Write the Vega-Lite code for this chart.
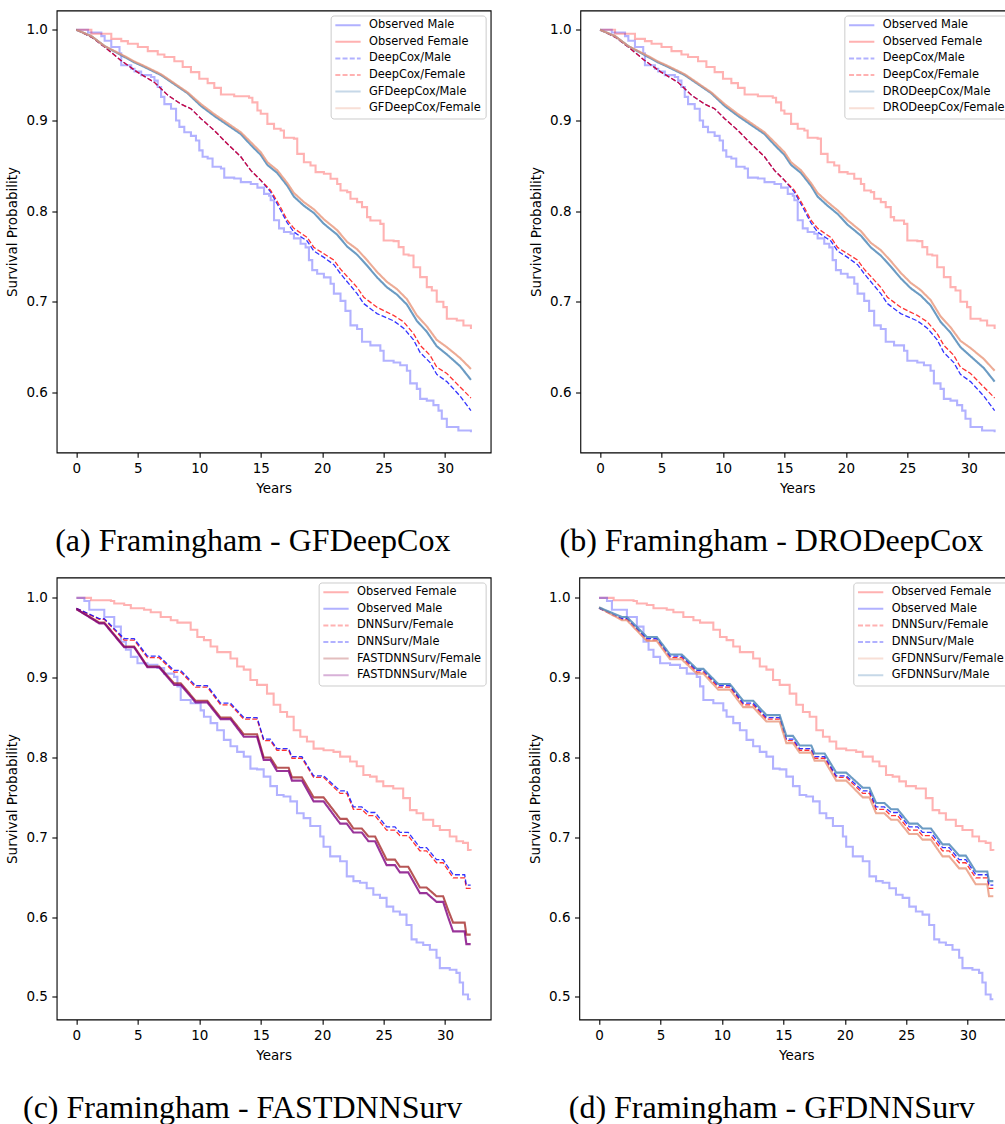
{
"$schema": "https://vega.github.io/schema/vega-lite/v6.json",
"padding": {"left": 4.65, "top": 9.5, "right": 0, "bottom": 0},
"background": "white",
"datasets": {
"obsAB": [
{"s":"Observed Male","t":0,"v":1.0},{"s":"Observed Male","t":0.95,"v":0.997},{"s":"Observed Male","t":2.03,"v":0.993},{"s":"Observed Male","t":2.3,"v":0.988},{"s":"Observed Male","t":2.84,"v":0.981},{"s":"Observed Male","t":3.51,"v":0.974},{"s":"Observed Male","t":3.65,"v":0.961},{"s":"Observed Male","t":4.46,"v":0.957},{"s":"Observed Male","t":4.73,"v":0.954},{"s":"Observed Male","t":5.27,"v":0.95},{"s":"Observed Male","t":6.08,"v":0.948},{"s":"Observed Male","t":6.35,"v":0.944},{"s":"Observed Male","t":6.62,"v":0.937},{"s":"Observed Male","t":6.89,"v":0.926},{"s":"Observed Male","t":7.16,"v":0.918},{"s":"Observed Male","t":7.7,"v":0.913},{"s":"Observed Male","t":8.11,"v":0.9},{"s":"Observed Male","t":8.38,"v":0.893},{"s":"Observed Male","t":8.78,"v":0.887},{"s":"Observed Male","t":9.32,"v":0.883},{"s":"Observed Male","t":9.73,"v":0.878},{"s":"Observed Male","t":10.0,"v":0.867},{"s":"Observed Male","t":10.27,"v":0.86},{"s":"Observed Male","t":10.68,"v":0.858},{"s":"Observed Male","t":11.08,"v":0.849},{"s":"Observed Male","t":11.76,"v":0.847},{"s":"Observed Male","t":12.03,"v":0.837},{"s":"Observed Male","t":12.84,"v":0.836},{"s":"Observed Male","t":13.38,"v":0.832},{"s":"Observed Male","t":14.19,"v":0.83},{"s":"Observed Male","t":14.73,"v":0.826},{"s":"Observed Male","t":15.27,"v":0.819},{"s":"Observed Male","t":15.68,"v":0.817},{"s":"Observed Male","t":15.81,"v":0.812},{"s":"Observed Male","t":16.08,"v":0.79},{"s":"Observed Male","t":16.49,"v":0.781},{"s":"Observed Male","t":16.89,"v":0.777},{"s":"Observed Male","t":17.43,"v":0.775},{"s":"Observed Male","t":17.7,"v":0.77},{"s":"Observed Male","t":18.24,"v":0.764},{"s":"Observed Male","t":18.65,"v":0.76},{"s":"Observed Male","t":18.92,"v":0.746},{"s":"Observed Male","t":19.19,"v":0.735},{"s":"Observed Male","t":19.59,"v":0.731},{"s":"Observed Male","t":20.14,"v":0.727},{"s":"Observed Male","t":20.68,"v":0.72},{"s":"Observed Male","t":20.95,"v":0.709},{"s":"Observed Male","t":21.49,"v":0.701},{"s":"Observed Male","t":21.89,"v":0.69},{"s":"Observed Male","t":22.3,"v":0.674},{"s":"Observed Male","t":22.84,"v":0.67},{"s":"Observed Male","t":23.24,"v":0.656},{"s":"Observed Male","t":23.92,"v":0.652},{"s":"Observed Male","t":24.73,"v":0.646},{"s":"Observed Male","t":25.0,"v":0.635},{"s":"Observed Male","t":25.81,"v":0.633},{"s":"Observed Male","t":26.35,"v":0.63},{"s":"Observed Male","t":26.89,"v":0.624},{"s":"Observed Male","t":27.16,"v":0.61},{"s":"Observed Male","t":27.7,"v":0.604},{"s":"Observed Male","t":27.97,"v":0.593},{"s":"Observed Male","t":28.51,"v":0.591},{"s":"Observed Male","t":29.05,"v":0.586},{"s":"Observed Male","t":29.46,"v":0.58},{"s":"Observed Male","t":29.73,"v":0.571},{"s":"Observed Male","t":30.14,"v":0.562},{"s":"Observed Male","t":31.08,"v":0.558},{"s":"Observed Male","t":32.1,"v":0.556},
{"s":"Observed Female","t":0,"v":1.0},{"s":"Observed Female","t":1.22,"v":0.9956},{"s":"Observed Female","t":2.84,"v":0.99},{"s":"Observed Female","t":3.65,"v":0.9875},{"s":"Observed Female","t":4.19,"v":0.9846},{"s":"Observed Female","t":5.0,"v":0.981},{"s":"Observed Female","t":5.81,"v":0.9765},{"s":"Observed Female","t":6.62,"v":0.9728},{"s":"Observed Female","t":7.16,"v":0.97},{"s":"Observed Female","t":7.97,"v":0.9654},{"s":"Observed Female","t":8.65,"v":0.959},{"s":"Observed Female","t":9.32,"v":0.9533},{"s":"Observed Female","t":10.0,"v":0.946},{"s":"Observed Female","t":10.68,"v":0.9412},{"s":"Observed Female","t":11.22,"v":0.936},{"s":"Observed Female","t":11.76,"v":0.9287},{"s":"Observed Female","t":12.84,"v":0.9268},{"s":"Observed Female","t":14.05,"v":0.925},{"s":"Observed Female","t":14.32,"v":0.92},{"s":"Observed Female","t":14.73,"v":0.911},{"s":"Observed Female","t":15.0,"v":0.9074},{"s":"Observed Female","t":15.54,"v":0.8963},{"s":"Observed Female","t":16.08,"v":0.8908},{"s":"Observed Female","t":16.62,"v":0.889},{"s":"Observed Female","t":16.89,"v":0.881},{"s":"Observed Female","t":17.7,"v":0.88},{"s":"Observed Female","t":17.97,"v":0.8632},{"s":"Observed Female","t":18.51,"v":0.854},{"s":"Observed Female","t":19.05,"v":0.8504},{"s":"Observed Female","t":19.46,"v":0.843},{"s":"Observed Female","t":20.14,"v":0.8412},{"s":"Observed Female","t":20.68,"v":0.8357},{"s":"Observed Female","t":21.22,"v":0.83},{"s":"Observed Female","t":21.49,"v":0.8228},{"s":"Observed Female","t":22.03,"v":0.821},{"s":"Observed Female","t":22.3,"v":0.8136},{"s":"Observed Female","t":22.84,"v":0.81},{"s":"Observed Female","t":23.24,"v":0.8044},{"s":"Observed Female","t":23.65,"v":0.7934},{"s":"Observed Female","t":23.92,"v":0.7897},{"s":"Observed Female","t":24.73,"v":0.786},{"s":"Observed Female","t":25.0,"v":0.7676},{"s":"Observed Female","t":25.81,"v":0.7669},{"s":"Observed Female","t":26.22,"v":0.7603},{"s":"Observed Female","t":26.62,"v":0.7522},{"s":"Observed Female","t":27.03,"v":0.7511},{"s":"Observed Female","t":27.43,"v":0.7382},{"s":"Observed Female","t":27.97,"v":0.7272},{"s":"Observed Female","t":28.51,"v":0.7162},{"s":"Observed Female","t":28.92,"v":0.7125},{"s":"Observed Female","t":29.32,"v":0.7},{"s":"Observed Female","t":29.86,"v":0.6941},{"s":"Observed Female","t":30.14,"v":0.6813},{"s":"Observed Female","t":30.95,"v":0.6794},{"s":"Observed Female","t":31.49,"v":0.6739},{"s":"Observed Female","t":32.1,"v":0.67}
],
"deepcox": [
{"s":"DeepCox/Male","t":0,"v":1.0},{"s":"DeepCox/Male","t":1.22,"v":0.992},{"s":"DeepCox/Male","t":2.3,"v":0.981},{"s":"DeepCox/Male","t":3.65,"v":0.966},{"s":"DeepCox/Male","t":5.0,"v":0.953},{"s":"DeepCox/Male","t":6.35,"v":0.942},{"s":"DeepCox/Male","t":7.43,"v":0.928},{"s":"DeepCox/Male","t":8.51,"v":0.918},{"s":"DeepCox/Male","t":9.32,"v":0.913},{"s":"DeepCox/Male","t":10.14,"v":0.902},{"s":"DeepCox/Male","t":11.22,"v":0.889},{"s":"DeepCox/Male","t":12.3,"v":0.874},{"s":"DeepCox/Male","t":13.38,"v":0.86},{"s":"DeepCox/Male","t":14.19,"v":0.845},{"s":"DeepCox/Male","t":15.0,"v":0.834},{"s":"DeepCox/Male","t":15.81,"v":0.821},{"s":"DeepCox/Male","t":16.62,"v":0.801},{"s":"DeepCox/Male","t":17.16,"v":0.787},{"s":"DeepCox/Male","t":17.7,"v":0.777},{"s":"DeepCox/Male","t":18.78,"v":0.767},{"s":"DeepCox/Male","t":19.32,"v":0.756},{"s":"DeepCox/Male","t":20.14,"v":0.749},{"s":"DeepCox/Male","t":20.95,"v":0.741},{"s":"DeepCox/Male","t":21.49,"v":0.731},{"s":"DeepCox/Male","t":22.84,"v":0.709},{"s":"DeepCox/Male","t":23.38,"v":0.698},{"s":"DeepCox/Male","t":24.46,"v":0.687},{"s":"DeepCox/Male","t":25.81,"v":0.679},{"s":"DeepCox/Male","t":26.62,"v":0.671},{"s":"DeepCox/Male","t":27.43,"v":0.658},{"s":"DeepCox/Male","t":27.97,"v":0.644},{"s":"DeepCox/Male","t":28.78,"v":0.633},{"s":"DeepCox/Male","t":29.32,"v":0.62},{"s":"DeepCox/Male","t":30.14,"v":0.612},{"s":"DeepCox/Male","t":31.22,"v":0.596},{"s":"DeepCox/Male","t":32.1,"v":0.58},
{"s":"DeepCox/Female","t":0,"v":1.0},{"s":"DeepCox/Female","t":1.22,"v":0.992},{"s":"DeepCox/Female","t":2.3,"v":0.981},{"s":"DeepCox/Female","t":3.65,"v":0.966},{"s":"DeepCox/Female","t":5.0,"v":0.953},{"s":"DeepCox/Female","t":6.35,"v":0.942},{"s":"DeepCox/Female","t":7.43,"v":0.928},{"s":"DeepCox/Female","t":8.51,"v":0.918},{"s":"DeepCox/Female","t":9.32,"v":0.913},{"s":"DeepCox/Female","t":10.14,"v":0.902},{"s":"DeepCox/Female","t":11.22,"v":0.889},{"s":"DeepCox/Female","t":12.3,"v":0.874},{"s":"DeepCox/Female","t":13.38,"v":0.86},{"s":"DeepCox/Female","t":14.19,"v":0.845},{"s":"DeepCox/Female","t":15.0,"v":0.834},{"s":"DeepCox/Female","t":15.81,"v":0.823},{"s":"DeepCox/Female","t":16.62,"v":0.804},{"s":"DeepCox/Female","t":17.16,"v":0.79},{"s":"DeepCox/Female","t":17.7,"v":0.781},{"s":"DeepCox/Female","t":18.78,"v":0.771},{"s":"DeepCox/Female","t":19.32,"v":0.76},{"s":"DeepCox/Female","t":20.14,"v":0.753},{"s":"DeepCox/Female","t":20.95,"v":0.746},{"s":"DeepCox/Female","t":21.49,"v":0.736},{"s":"DeepCox/Female","t":22.84,"v":0.716},{"s":"DeepCox/Female","t":23.38,"v":0.705},{"s":"DeepCox/Female","t":24.46,"v":0.694},{"s":"DeepCox/Female","t":25.81,"v":0.685},{"s":"DeepCox/Female","t":26.62,"v":0.678},{"s":"DeepCox/Female","t":27.43,"v":0.665},{"s":"DeepCox/Female","t":27.97,"v":0.652},{"s":"DeepCox/Female","t":28.78,"v":0.641},{"s":"DeepCox/Female","t":29.32,"v":0.628},{"s":"DeepCox/Female","t":30.14,"v":0.621},{"s":"DeepCox/Female","t":31.22,"v":0.606},{"s":"DeepCox/Female","t":32.1,"v":0.594}
],
"gfA": [
{"s":"GFDeepCox/Male","t":0,"v":1.0},{"s":"GFDeepCox/Male","t":1.22,"v":0.993},{"s":"GFDeepCox/Male","t":2.3,"v":0.982},{"s":"GFDeepCox/Male","t":3.92,"v":0.97},{"s":"GFDeepCox/Male","t":4.73,"v":0.964},{"s":"GFDeepCox/Male","t":5.54,"v":0.959},{"s":"GFDeepCox/Male","t":6.89,"v":0.95},{"s":"GFDeepCox/Male","t":7.97,"v":0.94},{"s":"GFDeepCox/Male","t":9.05,"v":0.93},{"s":"GFDeepCox/Male","t":10.14,"v":0.916},{"s":"GFDeepCox/Male","t":11.22,"v":0.905},{"s":"GFDeepCox/Male","t":12.3,"v":0.895},{"s":"GFDeepCox/Male","t":13.38,"v":0.885},{"s":"GFDeepCox/Male","t":14.19,"v":0.873},{"s":"GFDeepCox/Male","t":15.0,"v":0.862},{"s":"GFDeepCox/Male","t":15.54,"v":0.851},{"s":"GFDeepCox/Male","t":16.35,"v":0.842},{"s":"GFDeepCox/Male","t":17.16,"v":0.828},{"s":"GFDeepCox/Male","t":17.7,"v":0.816},{"s":"GFDeepCox/Male","t":18.51,"v":0.806},{"s":"GFDeepCox/Male","t":19.32,"v":0.798},{"s":"GFDeepCox/Male","t":20.14,"v":0.786},{"s":"GFDeepCox/Male","t":21.22,"v":0.774},{"s":"GFDeepCox/Male","t":22.03,"v":0.761},{"s":"GFDeepCox/Male","t":22.84,"v":0.752},{"s":"GFDeepCox/Male","t":23.65,"v":0.74},{"s":"GFDeepCox/Male","t":24.46,"v":0.727},{"s":"GFDeepCox/Male","t":25.27,"v":0.716},{"s":"GFDeepCox/Male","t":26.08,"v":0.708},{"s":"GFDeepCox/Male","t":26.89,"v":0.697},{"s":"GFDeepCox/Male","t":27.7,"v":0.679},{"s":"GFDeepCox/Male","t":28.51,"v":0.667},{"s":"GFDeepCox/Male","t":29.32,"v":0.651},{"s":"GFDeepCox/Male","t":30.14,"v":0.642},{"s":"GFDeepCox/Male","t":31.22,"v":0.629},{"s":"GFDeepCox/Male","t":32.1,"v":0.614},
{"s":"GFDeepCox/Female","t":0,"v":1.0},{"s":"GFDeepCox/Female","t":1.22,"v":0.993},{"s":"GFDeepCox/Female","t":2.3,"v":0.982},{"s":"GFDeepCox/Female","t":3.92,"v":0.971},{"s":"GFDeepCox/Female","t":4.73,"v":0.965},{"s":"GFDeepCox/Female","t":5.54,"v":0.96},{"s":"GFDeepCox/Female","t":6.89,"v":0.951},{"s":"GFDeepCox/Female","t":7.97,"v":0.941},{"s":"GFDeepCox/Female","t":9.05,"v":0.931},{"s":"GFDeepCox/Female","t":10.14,"v":0.918},{"s":"GFDeepCox/Female","t":11.22,"v":0.907},{"s":"GFDeepCox/Female","t":12.3,"v":0.897},{"s":"GFDeepCox/Female","t":13.38,"v":0.887},{"s":"GFDeepCox/Female","t":14.19,"v":0.876},{"s":"GFDeepCox/Female","t":15.0,"v":0.865},{"s":"GFDeepCox/Female","t":15.54,"v":0.854},{"s":"GFDeepCox/Female","t":16.35,"v":0.845},{"s":"GFDeepCox/Female","t":17.16,"v":0.831},{"s":"GFDeepCox/Female","t":17.7,"v":0.82},{"s":"GFDeepCox/Female","t":18.51,"v":0.81},{"s":"GFDeepCox/Female","t":19.32,"v":0.802},{"s":"GFDeepCox/Female","t":20.14,"v":0.791},{"s":"GFDeepCox/Female","t":21.22,"v":0.779},{"s":"GFDeepCox/Female","t":22.03,"v":0.766},{"s":"GFDeepCox/Female","t":22.84,"v":0.758},{"s":"GFDeepCox/Female","t":23.65,"v":0.746},{"s":"GFDeepCox/Female","t":24.46,"v":0.733},{"s":"GFDeepCox/Female","t":25.27,"v":0.722},{"s":"GFDeepCox/Female","t":26.08,"v":0.714},{"s":"GFDeepCox/Female","t":26.89,"v":0.703},{"s":"GFDeepCox/Female","t":27.7,"v":0.685},{"s":"GFDeepCox/Female","t":28.51,"v":0.673},{"s":"GFDeepCox/Female","t":29.32,"v":0.658},{"s":"GFDeepCox/Female","t":30.14,"v":0.65},{"s":"GFDeepCox/Female","t":31.22,"v":0.638},{"s":"GFDeepCox/Female","t":32.1,"v":0.626}
],
"droB": [
{"s":"DRODeepCox/Male","t":0,"v":1.0},{"s":"DRODeepCox/Male","t":1.22,"v":0.993},{"s":"DRODeepCox/Male","t":2.3,"v":0.982},{"s":"DRODeepCox/Male","t":3.92,"v":0.97},{"s":"DRODeepCox/Male","t":4.73,"v":0.964},{"s":"DRODeepCox/Male","t":5.54,"v":0.959},{"s":"DRODeepCox/Male","t":6.89,"v":0.95},{"s":"DRODeepCox/Male","t":7.97,"v":0.94},{"s":"DRODeepCox/Male","t":9.05,"v":0.93},{"s":"DRODeepCox/Male","t":10.14,"v":0.916},{"s":"DRODeepCox/Male","t":11.22,"v":0.905},{"s":"DRODeepCox/Male","t":12.3,"v":0.895},{"s":"DRODeepCox/Male","t":13.38,"v":0.885},{"s":"DRODeepCox/Male","t":14.19,"v":0.873},{"s":"DRODeepCox/Male","t":15.0,"v":0.862},{"s":"DRODeepCox/Male","t":15.54,"v":0.851},{"s":"DRODeepCox/Male","t":16.35,"v":0.842},{"s":"DRODeepCox/Male","t":17.16,"v":0.828},{"s":"DRODeepCox/Male","t":17.7,"v":0.816},{"s":"DRODeepCox/Male","t":18.51,"v":0.806},{"s":"DRODeepCox/Male","t":19.32,"v":0.797},{"s":"DRODeepCox/Male","t":20.14,"v":0.785},{"s":"DRODeepCox/Male","t":21.22,"v":0.773},{"s":"DRODeepCox/Male","t":22.03,"v":0.76},{"s":"DRODeepCox/Male","t":22.84,"v":0.751},{"s":"DRODeepCox/Male","t":23.65,"v":0.739},{"s":"DRODeepCox/Male","t":24.46,"v":0.726},{"s":"DRODeepCox/Male","t":25.27,"v":0.715},{"s":"DRODeepCox/Male","t":26.08,"v":0.707},{"s":"DRODeepCox/Male","t":26.89,"v":0.696},{"s":"DRODeepCox/Male","t":27.7,"v":0.678},{"s":"DRODeepCox/Male","t":28.51,"v":0.666},{"s":"DRODeepCox/Male","t":29.32,"v":0.65},{"s":"DRODeepCox/Male","t":30.14,"v":0.64},{"s":"DRODeepCox/Male","t":31.22,"v":0.627},{"s":"DRODeepCox/Male","t":32.1,"v":0.612},
{"s":"DRODeepCox/Female","t":0,"v":1.0},{"s":"DRODeepCox/Female","t":1.22,"v":0.993},{"s":"DRODeepCox/Female","t":2.3,"v":0.982},{"s":"DRODeepCox/Female","t":3.92,"v":0.971},{"s":"DRODeepCox/Female","t":4.73,"v":0.965},{"s":"DRODeepCox/Female","t":5.54,"v":0.96},{"s":"DRODeepCox/Female","t":6.89,"v":0.951},{"s":"DRODeepCox/Female","t":7.97,"v":0.941},{"s":"DRODeepCox/Female","t":9.05,"v":0.931},{"s":"DRODeepCox/Female","t":10.14,"v":0.918},{"s":"DRODeepCox/Female","t":11.22,"v":0.907},{"s":"DRODeepCox/Female","t":12.3,"v":0.897},{"s":"DRODeepCox/Female","t":13.38,"v":0.887},{"s":"DRODeepCox/Female","t":14.19,"v":0.876},{"s":"DRODeepCox/Female","t":15.0,"v":0.865},{"s":"DRODeepCox/Female","t":15.54,"v":0.854},{"s":"DRODeepCox/Female","t":16.35,"v":0.845},{"s":"DRODeepCox/Female","t":17.16,"v":0.831},{"s":"DRODeepCox/Female","t":17.7,"v":0.82},{"s":"DRODeepCox/Female","t":18.51,"v":0.81},{"s":"DRODeepCox/Female","t":19.32,"v":0.801},{"s":"DRODeepCox/Female","t":20.14,"v":0.79},{"s":"DRODeepCox/Female","t":21.22,"v":0.778},{"s":"DRODeepCox/Female","t":22.03,"v":0.765},{"s":"DRODeepCox/Female","t":22.84,"v":0.757},{"s":"DRODeepCox/Female","t":23.65,"v":0.745},{"s":"DRODeepCox/Female","t":24.46,"v":0.732},{"s":"DRODeepCox/Female","t":25.27,"v":0.721},{"s":"DRODeepCox/Female","t":26.08,"v":0.713},{"s":"DRODeepCox/Female","t":26.89,"v":0.702},{"s":"DRODeepCox/Female","t":27.7,"v":0.684},{"s":"DRODeepCox/Female","t":28.51,"v":0.672},{"s":"DRODeepCox/Female","t":29.32,"v":0.657},{"s":"DRODeepCox/Female","t":30.14,"v":0.649},{"s":"DRODeepCox/Female","t":31.22,"v":0.637},{"s":"DRODeepCox/Female","t":32.1,"v":0.624}
],
"obsCD": [
{"s":"Observed Female","t":0,"v":1.0},{"s":"Observed Female","t":1.19,"v":0.997},{"s":"Observed Female","t":2.81,"v":0.996},{"s":"Observed Female","t":3.08,"v":0.993},{"s":"Observed Female","t":3.89,"v":0.991},{"s":"Observed Female","t":4.43,"v":0.987},{"s":"Observed Female","t":5.51,"v":0.985},{"s":"Observed Female","t":6.05,"v":0.982},{"s":"Observed Female","t":6.86,"v":0.976},{"s":"Observed Female","t":7.68,"v":0.972},{"s":"Observed Female","t":8.22,"v":0.969},{"s":"Observed Female","t":9.3,"v":0.96},{"s":"Observed Female","t":9.84,"v":0.951},{"s":"Observed Female","t":10.38,"v":0.947},{"s":"Observed Female","t":10.92,"v":0.939},{"s":"Observed Female","t":11.46,"v":0.932},{"s":"Observed Female","t":12.54,"v":0.924},{"s":"Observed Female","t":13.08,"v":0.914},{"s":"Observed Female","t":13.62,"v":0.91},{"s":"Observed Female","t":14.16,"v":0.897},{"s":"Observed Female","t":14.7,"v":0.891},{"s":"Observed Female","t":15.51,"v":0.88},{"s":"Observed Female","t":16.05,"v":0.866},{"s":"Observed Female","t":16.59,"v":0.857},{"s":"Observed Female","t":17.14,"v":0.851},{"s":"Observed Female","t":17.68,"v":0.834},{"s":"Observed Female","t":18.22,"v":0.826},{"s":"Observed Female","t":18.76,"v":0.82},{"s":"Observed Female","t":19.3,"v":0.811},{"s":"Observed Female","t":20.11,"v":0.809},{"s":"Observed Female","t":20.92,"v":0.807},{"s":"Observed Female","t":21.46,"v":0.801},{"s":"Observed Female","t":22.27,"v":0.795},{"s":"Observed Female","t":22.81,"v":0.789},{"s":"Observed Female","t":23.35,"v":0.778},{"s":"Observed Female","t":23.89,"v":0.776},{"s":"Observed Female","t":24.43,"v":0.77},{"s":"Observed Female","t":24.97,"v":0.764},{"s":"Observed Female","t":25.78,"v":0.761},{"s":"Observed Female","t":26.59,"v":0.749},{"s":"Observed Female","t":27.14,"v":0.734},{"s":"Observed Female","t":27.68,"v":0.73},{"s":"Observed Female","t":28.22,"v":0.722},{"s":"Observed Female","t":29.03,"v":0.714},{"s":"Observed Female","t":29.57,"v":0.709},{"s":"Observed Female","t":30.38,"v":0.701},{"s":"Observed Female","t":30.92,"v":0.695},{"s":"Observed Female","t":31.46,"v":0.693},{"s":"Observed Female","t":31.86,"v":0.684},{"s":"Observed Female","t":32.08,"v":0.683},
{"s":"Observed Male","t":0,"v":1.0},{"s":"Observed Male","t":0.65,"v":0.996},{"s":"Observed Male","t":1.05,"v":0.985},{"s":"Observed Male","t":1.73,"v":0.985},{"s":"Observed Male","t":2.27,"v":0.976},{"s":"Observed Male","t":3.08,"v":0.964},{"s":"Observed Male","t":3.62,"v":0.945},{"s":"Observed Male","t":4.03,"v":0.935},{"s":"Observed Male","t":4.43,"v":0.926},{"s":"Observed Male","t":4.97,"v":0.918},{"s":"Observed Male","t":5.78,"v":0.916},{"s":"Observed Male","t":6.59,"v":0.912},{"s":"Observed Male","t":7.14,"v":0.905},{"s":"Observed Male","t":7.95,"v":0.901},{"s":"Observed Male","t":8.22,"v":0.889},{"s":"Observed Male","t":8.49,"v":0.872},{"s":"Observed Male","t":9.3,"v":0.868},{"s":"Observed Male","t":10.11,"v":0.859},{"s":"Observed Male","t":10.38,"v":0.851},{"s":"Observed Male","t":10.92,"v":0.843},{"s":"Observed Male","t":11.46,"v":0.834},{"s":"Observed Male","t":12.0,"v":0.822},{"s":"Observed Male","t":12.54,"v":0.814},{"s":"Observed Male","t":13.08,"v":0.807},{"s":"Observed Male","t":13.62,"v":0.801},{"s":"Observed Male","t":14.16,"v":0.786},{"s":"Observed Male","t":14.7,"v":0.785},{"s":"Observed Male","t":15.24,"v":0.776},{"s":"Observed Male","t":15.78,"v":0.764},{"s":"Observed Male","t":16.32,"v":0.753},{"s":"Observed Male","t":16.86,"v":0.751},{"s":"Observed Male","t":17.41,"v":0.745},{"s":"Observed Male","t":17.95,"v":0.73},{"s":"Observed Male","t":18.49,"v":0.724},{"s":"Observed Male","t":19.03,"v":0.714},{"s":"Observed Male","t":19.84,"v":0.701},{"s":"Observed Male","t":20.11,"v":0.688},{"s":"Observed Male","t":20.65,"v":0.676},{"s":"Observed Male","t":21.46,"v":0.67},{"s":"Observed Male","t":22.0,"v":0.651},{"s":"Observed Male","t":22.54,"v":0.645},{"s":"Observed Male","t":23.08,"v":0.643},{"s":"Observed Male","t":23.62,"v":0.636},{"s":"Observed Male","t":24.16,"v":0.628},{"s":"Observed Male","t":24.7,"v":0.624},{"s":"Observed Male","t":25.24,"v":0.613},{"s":"Observed Male","t":25.78,"v":0.607},{"s":"Observed Male","t":26.32,"v":0.603},{"s":"Observed Male","t":26.86,"v":0.59},{"s":"Observed Male","t":27.27,"v":0.572},{"s":"Observed Male","t":27.68,"v":0.568},{"s":"Observed Male","t":28.22,"v":0.565},{"s":"Observed Male","t":28.76,"v":0.559},{"s":"Observed Male","t":29.3,"v":0.549},{"s":"Observed Male","t":29.57,"v":0.536},{"s":"Observed Male","t":30.38,"v":0.534},{"s":"Observed Male","t":30.92,"v":0.53},{"s":"Observed Male","t":31.19,"v":0.518},{"s":"Observed Male","t":31.46,"v":0.503},{"s":"Observed Male","t":31.86,"v":0.497},{"s":"Observed Male","t":32.08,"v":0.497}
],
"dnn": [
{"s":"DNNSurv/Female","t":0,"v":0.987},{"s":"DNNSurv/Female","t":1.86,"v":0.973},{"s":"DNNSurv/Female","t":2.27,"v":0.973},{"s":"DNNSurv/Female","t":3.89,"v":0.947},{"s":"DNNSurv/Female","t":4.7,"v":0.947},{"s":"DNNSurv/Female","t":5.78,"v":0.925},{"s":"DNNSurv/Female","t":6.73,"v":0.925},{"s":"DNNSurv/Female","t":7.95,"v":0.907},{"s":"DNNSurv/Female","t":8.49,"v":0.907},{"s":"DNNSurv/Female","t":9.7,"v":0.888},{"s":"DNNSurv/Female","t":10.65,"v":0.888},{"s":"DNNSurv/Female","t":11.73,"v":0.866},{"s":"DNNSurv/Female","t":12.54,"v":0.866},{"s":"DNNSurv/Female","t":13.62,"v":0.848},{"s":"DNNSurv/Female","t":14.7,"v":0.848},{"s":"DNNSurv/Female","t":15.24,"v":0.821},{"s":"DNNSurv/Female","t":15.78,"v":0.821},{"s":"DNNSurv/Female","t":16.32,"v":0.809},{"s":"DNNSurv/Female","t":17.27,"v":0.809},{"s":"DNNSurv/Female","t":17.54,"v":0.799},{"s":"DNNSurv/Female","t":18.35,"v":0.799},{"s":"DNNSurv/Female","t":19.3,"v":0.775},{"s":"DNNSurv/Female","t":20.11,"v":0.775},{"s":"DNNSurv/Female","t":21.46,"v":0.755},{"s":"DNNSurv/Female","t":22.0,"v":0.755},{"s":"DNNSurv/Female","t":22.54,"v":0.735},{"s":"DNNSurv/Female","t":23.22,"v":0.735},{"s":"DNNSurv/Female","t":23.76,"v":0.727},{"s":"DNNSurv/Female","t":24.3,"v":0.727},{"s":"DNNSurv/Female","t":25.24,"v":0.709},{"s":"DNNSurv/Female","t":25.92,"v":0.709},{"s":"DNNSurv/Female","t":26.32,"v":0.702},{"s":"DNNSurv/Female","t":27.0,"v":0.702},{"s":"DNNSurv/Female","t":27.95,"v":0.683},{"s":"DNNSurv/Female","t":28.49,"v":0.683},{"s":"DNNSurv/Female","t":29.3,"v":0.668},{"s":"DNNSurv/Female","t":29.84,"v":0.668},{"s":"DNNSurv/Female","t":30.65,"v":0.649},{"s":"DNNSurv/Female","t":31.59,"v":0.649},{"s":"DNNSurv/Female","t":31.73,"v":0.636},{"s":"DNNSurv/Female","t":32.08,"v":0.636},
{"s":"DNNSurv/Male","t":0,"v":0.987},{"s":"DNNSurv/Male","t":1.86,"v":0.974},{"s":"DNNSurv/Male","t":2.27,"v":0.974},{"s":"DNNSurv/Male","t":3.89,"v":0.949},{"s":"DNNSurv/Male","t":4.7,"v":0.949},{"s":"DNNSurv/Male","t":5.78,"v":0.927},{"s":"DNNSurv/Male","t":6.73,"v":0.927},{"s":"DNNSurv/Male","t":7.95,"v":0.909},{"s":"DNNSurv/Male","t":8.49,"v":0.909},{"s":"DNNSurv/Male","t":9.7,"v":0.89},{"s":"DNNSurv/Male","t":10.65,"v":0.89},{"s":"DNNSurv/Male","t":11.73,"v":0.868},{"s":"DNNSurv/Male","t":12.54,"v":0.868},{"s":"DNNSurv/Male","t":13.62,"v":0.85},{"s":"DNNSurv/Male","t":14.7,"v":0.85},{"s":"DNNSurv/Male","t":15.24,"v":0.823},{"s":"DNNSurv/Male","t":15.78,"v":0.823},{"s":"DNNSurv/Male","t":16.32,"v":0.811},{"s":"DNNSurv/Male","t":17.27,"v":0.811},{"s":"DNNSurv/Male","t":17.54,"v":0.801},{"s":"DNNSurv/Male","t":18.35,"v":0.801},{"s":"DNNSurv/Male","t":19.3,"v":0.777},{"s":"DNNSurv/Male","t":20.11,"v":0.777},{"s":"DNNSurv/Male","t":21.46,"v":0.758},{"s":"DNNSurv/Male","t":22.0,"v":0.758},{"s":"DNNSurv/Male","t":22.54,"v":0.738},{"s":"DNNSurv/Male","t":23.22,"v":0.738},{"s":"DNNSurv/Male","t":23.76,"v":0.731},{"s":"DNNSurv/Male","t":24.3,"v":0.731},{"s":"DNNSurv/Male","t":25.24,"v":0.713},{"s":"DNNSurv/Male","t":25.92,"v":0.713},{"s":"DNNSurv/Male","t":26.32,"v":0.706},{"s":"DNNSurv/Male","t":27.0,"v":0.706},{"s":"DNNSurv/Male","t":27.95,"v":0.687},{"s":"DNNSurv/Male","t":28.49,"v":0.687},{"s":"DNNSurv/Male","t":29.3,"v":0.672},{"s":"DNNSurv/Male","t":29.84,"v":0.672},{"s":"DNNSurv/Male","t":30.65,"v":0.653},{"s":"DNNSurv/Male","t":31.59,"v":0.653},{"s":"DNNSurv/Male","t":31.73,"v":0.64},{"s":"DNNSurv/Male","t":32.08,"v":0.64}
],
"fast": [
{"s":"FASTDNNSurv/Female","t":0,"v":0.986},{"s":"FASTDNNSurv/Female","t":1.86,"v":0.969},{"s":"FASTDNNSurv/Female","t":2.27,"v":0.969},{"s":"FASTDNNSurv/Female","t":3.89,"v":0.939},{"s":"FASTDNNSurv/Female","t":4.7,"v":0.939},{"s":"FASTDNNSurv/Female","t":5.78,"v":0.914},{"s":"FASTDNNSurv/Female","t":6.73,"v":0.914},{"s":"FASTDNNSurv/Female","t":7.95,"v":0.893},{"s":"FASTDNNSurv/Female","t":8.49,"v":0.893},{"s":"FASTDNNSurv/Female","t":9.7,"v":0.871},{"s":"FASTDNNSurv/Female","t":10.65,"v":0.871},{"s":"FASTDNNSurv/Female","t":11.73,"v":0.85},{"s":"FASTDNNSurv/Female","t":12.54,"v":0.85},{"s":"FASTDNNSurv/Female","t":13.62,"v":0.829},{"s":"FASTDNNSurv/Female","t":14.7,"v":0.829},{"s":"FASTDNNSurv/Female","t":15.24,"v":0.8},{"s":"FASTDNNSurv/Female","t":15.78,"v":0.8},{"s":"FASTDNNSurv/Female","t":16.32,"v":0.787},{"s":"FASTDNNSurv/Female","t":17.27,"v":0.787},{"s":"FASTDNNSurv/Female","t":17.54,"v":0.775},{"s":"FASTDNNSurv/Female","t":18.35,"v":0.775},{"s":"FASTDNNSurv/Female","t":19.3,"v":0.75},{"s":"FASTDNNSurv/Female","t":20.11,"v":0.75},{"s":"FASTDNNSurv/Female","t":21.46,"v":0.723},{"s":"FASTDNNSurv/Female","t":22.0,"v":0.723},{"s":"FASTDNNSurv/Female","t":22.54,"v":0.711},{"s":"FASTDNNSurv/Female","t":23.22,"v":0.711},{"s":"FASTDNNSurv/Female","t":23.76,"v":0.701},{"s":"FASTDNNSurv/Female","t":24.3,"v":0.701},{"s":"FASTDNNSurv/Female","t":25.24,"v":0.672},{"s":"FASTDNNSurv/Female","t":25.92,"v":0.672},{"s":"FASTDNNSurv/Female","t":26.32,"v":0.663},{"s":"FASTDNNSurv/Female","t":27.0,"v":0.663},{"s":"FASTDNNSurv/Female","t":27.95,"v":0.637},{"s":"FASTDNNSurv/Female","t":28.49,"v":0.637},{"s":"FASTDNNSurv/Female","t":29.3,"v":0.626},{"s":"FASTDNNSurv/Female","t":29.84,"v":0.626},{"s":"FASTDNNSurv/Female","t":30.24,"v":0.609},{"s":"FASTDNNSurv/Female","t":30.65,"v":0.593},{"s":"FASTDNNSurv/Female","t":31.59,"v":0.593},{"s":"FASTDNNSurv/Female","t":31.73,"v":0.578},{"s":"FASTDNNSurv/Female","t":32.08,"v":0.578},
{"s":"FASTDNNSurv/Male","t":0,"v":0.986},{"s":"FASTDNNSurv/Male","t":1.86,"v":0.968},{"s":"FASTDNNSurv/Male","t":2.27,"v":0.968},{"s":"FASTDNNSurv/Male","t":3.89,"v":0.938},{"s":"FASTDNNSurv/Male","t":4.7,"v":0.938},{"s":"FASTDNNSurv/Male","t":5.78,"v":0.913},{"s":"FASTDNNSurv/Male","t":6.73,"v":0.913},{"s":"FASTDNNSurv/Male","t":7.95,"v":0.891},{"s":"FASTDNNSurv/Male","t":8.49,"v":0.891},{"s":"FASTDNNSurv/Male","t":9.7,"v":0.869},{"s":"FASTDNNSurv/Male","t":10.65,"v":0.869},{"s":"FASTDNNSurv/Male","t":11.73,"v":0.848},{"s":"FASTDNNSurv/Male","t":12.54,"v":0.848},{"s":"FASTDNNSurv/Male","t":13.62,"v":0.826},{"s":"FASTDNNSurv/Male","t":14.7,"v":0.826},{"s":"FASTDNNSurv/Male","t":15.24,"v":0.797},{"s":"FASTDNNSurv/Male","t":15.78,"v":0.797},{"s":"FASTDNNSurv/Male","t":16.32,"v":0.783},{"s":"FASTDNNSurv/Male","t":17.27,"v":0.783},{"s":"FASTDNNSurv/Male","t":17.54,"v":0.771},{"s":"FASTDNNSurv/Male","t":18.35,"v":0.771},{"s":"FASTDNNSurv/Male","t":19.3,"v":0.745},{"s":"FASTDNNSurv/Male","t":20.11,"v":0.745},{"s":"FASTDNNSurv/Male","t":21.46,"v":0.717},{"s":"FASTDNNSurv/Male","t":22.0,"v":0.717},{"s":"FASTDNNSurv/Male","t":22.54,"v":0.706},{"s":"FASTDNNSurv/Male","t":23.22,"v":0.706},{"s":"FASTDNNSurv/Male","t":23.76,"v":0.695},{"s":"FASTDNNSurv/Male","t":24.3,"v":0.695},{"s":"FASTDNNSurv/Male","t":25.24,"v":0.665},{"s":"FASTDNNSurv/Male","t":25.92,"v":0.665},{"s":"FASTDNNSurv/Male","t":26.32,"v":0.656},{"s":"FASTDNNSurv/Male","t":27.0,"v":0.656},{"s":"FASTDNNSurv/Male","t":27.95,"v":0.63},{"s":"FASTDNNSurv/Male","t":28.49,"v":0.63},{"s":"FASTDNNSurv/Male","t":29.3,"v":0.619},{"s":"FASTDNNSurv/Male","t":29.84,"v":0.619},{"s":"FASTDNNSurv/Male","t":30.24,"v":0.6},{"s":"FASTDNNSurv/Male","t":30.65,"v":0.582},{"s":"FASTDNNSurv/Male","t":31.59,"v":0.582},{"s":"FASTDNNSurv/Male","t":31.73,"v":0.566},{"s":"FASTDNNSurv/Male","t":32.08,"v":0.566}
],
"gfdnn": [
{"s":"GFDNNSurv/Female","t":0,"v":0.988},{"s":"GFDNNSurv/Female","t":1.86,"v":0.972},{"s":"GFDNNSurv/Female","t":2.27,"v":0.972},{"s":"GFDNNSurv/Female","t":3.89,"v":0.946},{"s":"GFDNNSurv/Female","t":4.7,"v":0.946},{"s":"GFDNNSurv/Female","t":5.78,"v":0.923},{"s":"GFDNNSurv/Female","t":6.73,"v":0.923},{"s":"GFDNNSurv/Female","t":7.95,"v":0.905},{"s":"GFDNNSurv/Female","t":8.49,"v":0.905},{"s":"GFDNNSurv/Female","t":9.7,"v":0.885},{"s":"GFDNNSurv/Female","t":10.65,"v":0.885},{"s":"GFDNNSurv/Female","t":11.73,"v":0.863},{"s":"GFDNNSurv/Female","t":12.54,"v":0.863},{"s":"GFDNNSurv/Female","t":13.62,"v":0.845},{"s":"GFDNNSurv/Female","t":14.7,"v":0.845},{"s":"GFDNNSurv/Female","t":15.24,"v":0.818},{"s":"GFDNNSurv/Female","t":15.78,"v":0.818},{"s":"GFDNNSurv/Female","t":16.32,"v":0.806},{"s":"GFDNNSurv/Female","t":17.27,"v":0.806},{"s":"GFDNNSurv/Female","t":17.54,"v":0.796},{"s":"GFDNNSurv/Female","t":18.35,"v":0.796},{"s":"GFDNNSurv/Female","t":19.3,"v":0.771},{"s":"GFDNNSurv/Female","t":20.11,"v":0.771},{"s":"GFDNNSurv/Female","t":21.46,"v":0.75},{"s":"GFDNNSurv/Female","t":22.0,"v":0.75},{"s":"GFDNNSurv/Female","t":22.54,"v":0.73},{"s":"GFDNNSurv/Female","t":23.22,"v":0.73},{"s":"GFDNNSurv/Female","t":23.76,"v":0.722},{"s":"GFDNNSurv/Female","t":24.3,"v":0.722},{"s":"GFDNNSurv/Female","t":25.24,"v":0.704},{"s":"GFDNNSurv/Female","t":25.92,"v":0.704},{"s":"GFDNNSurv/Female","t":26.32,"v":0.697},{"s":"GFDNNSurv/Female","t":27.0,"v":0.697},{"s":"GFDNNSurv/Female","t":27.95,"v":0.676},{"s":"GFDNNSurv/Female","t":28.49,"v":0.676},{"s":"GFDNNSurv/Female","t":29.3,"v":0.661},{"s":"GFDNNSurv/Female","t":29.84,"v":0.661},{"s":"GFDNNSurv/Female","t":30.65,"v":0.641},{"s":"GFDNNSurv/Female","t":31.59,"v":0.641},{"s":"GFDNNSurv/Female","t":31.73,"v":0.626},{"s":"GFDNNSurv/Female","t":32.08,"v":0.626},
{"s":"GFDNNSurv/Male","t":0,"v":0.988},{"s":"GFDNNSurv/Male","t":1.86,"v":0.976},{"s":"GFDNNSurv/Male","t":2.27,"v":0.976},{"s":"GFDNNSurv/Male","t":3.89,"v":0.951},{"s":"GFDNNSurv/Male","t":4.7,"v":0.951},{"s":"GFDNNSurv/Male","t":5.78,"v":0.929},{"s":"GFDNNSurv/Male","t":6.73,"v":0.929},{"s":"GFDNNSurv/Male","t":7.95,"v":0.911},{"s":"GFDNNSurv/Male","t":8.49,"v":0.911},{"s":"GFDNNSurv/Male","t":9.7,"v":0.892},{"s":"GFDNNSurv/Male","t":10.65,"v":0.892},{"s":"GFDNNSurv/Male","t":11.73,"v":0.871},{"s":"GFDNNSurv/Male","t":12.54,"v":0.871},{"s":"GFDNNSurv/Male","t":13.62,"v":0.853},{"s":"GFDNNSurv/Male","t":14.7,"v":0.853},{"s":"GFDNNSurv/Male","t":15.24,"v":0.827},{"s":"GFDNNSurv/Male","t":15.78,"v":0.827},{"s":"GFDNNSurv/Male","t":16.32,"v":0.815},{"s":"GFDNNSurv/Male","t":17.27,"v":0.815},{"s":"GFDNNSurv/Male","t":17.54,"v":0.805},{"s":"GFDNNSurv/Male","t":18.35,"v":0.805},{"s":"GFDNNSurv/Male","t":19.3,"v":0.781},{"s":"GFDNNSurv/Male","t":20.11,"v":0.781},{"s":"GFDNNSurv/Male","t":21.46,"v":0.762},{"s":"GFDNNSurv/Male","t":22.0,"v":0.762},{"s":"GFDNNSurv/Male","t":22.54,"v":0.743},{"s":"GFDNNSurv/Male","t":23.22,"v":0.743},{"s":"GFDNNSurv/Male","t":23.76,"v":0.735},{"s":"GFDNNSurv/Male","t":24.3,"v":0.735},{"s":"GFDNNSurv/Male","t":25.24,"v":0.717},{"s":"GFDNNSurv/Male","t":25.92,"v":0.717},{"s":"GFDNNSurv/Male","t":26.32,"v":0.711},{"s":"GFDNNSurv/Male","t":27.0,"v":0.711},{"s":"GFDNNSurv/Male","t":27.95,"v":0.691},{"s":"GFDNNSurv/Male","t":28.49,"v":0.691},{"s":"GFDNNSurv/Male","t":29.3,"v":0.677},{"s":"GFDNNSurv/Male","t":29.84,"v":0.677},{"s":"GFDNNSurv/Male","t":30.65,"v":0.657},{"s":"GFDNNSurv/Male","t":31.59,"v":0.657},{"s":"GFDNNSurv/Male","t":31.73,"v":0.645},{"s":"GFDNNSurv/Male","t":32.08,"v":0.645}
]
},
"spacing": 19,
"columns": 1,
"align": "none",
"resolve": {"scale": {"color": "independent", "strokeDash": "independent", "x": "independent", "y": "independent"}, "legend": {"color": "independent", "strokeDash": "independent"}},
"concat": [
{"spacing": 36.7,
 "resolve": {"scale": {"color": "independent", "strokeDash": "independent", "x": "independent", "y": "independent"}, "legend": {"color": "independent", "strokeDash": "independent"}},
 "hconcat": [
{"width": 434, "height": 442,
 "title": {"text": "(a) Framingham - GFDeepCox", "dx": -20.85},
 "encoding": {
  "x": {"field": "t", "type": "quantitative", "scale": {"domain": [-1.605, 33.705], "nice": false, "zero": false}, "axis": {"title": "Years", "values": [0,5,10,15,20,25,30]}},
  "y": {"field": "v", "type": "quantitative", "scale": {"domain": [0.5338, 1.0213], "nice": false, "zero": false}, "axis": {"title": "Survival Probability", "values": [0.6,0.7,0.8,0.9,1.0], "format": ".1f"}},
  "color": {"field": "s", "type": "nominal", "scale": {"domain": ["Observed Male","Observed Female","DeepCox/Male","DeepCox/Female","GFDeepCox/Male","GFDeepCox/Female"], "range": ["blue","red","blue","red","steelblue","darksalmon"]},
   "legend": {"title": null, "encode": {"symbols": {"update": {"opacity": {"signal": "indexof(datum.value, 'Observed') >= 0 ? 0.3 : 0.8"}, "strokeWidth": {"signal": "indexof(datum.value, 'DeepCox') == 0 || indexof(datum.value, 'DNNSurv') == 0 ? 1.3 : 2.1"}}}}}},
  "strokeDash": {"field": "s", "type": "nominal", "scale": {"domain": ["Observed Male","Observed Female","DeepCox/Male","DeepCox/Female","GFDeepCox/Male","GFDeepCox/Female"], "range": [[1,0],[1,0],[5,2.2],[5,2.2],[1,0],[1,0]]},
   "legend": {"title": null, "encode": {"symbols": {"update": {"opacity": {"signal": "indexof(datum.value, 'Observed') >= 0 ? 0.3 : 0.8"}, "strokeWidth": {"signal": "indexof(datum.value, 'DeepCox') == 0 || indexof(datum.value, 'DNNSurv') == 0 ? 1.3 : 2.1"}}}}}}
 },
 "layer": [
  {"data": {"name": "obsAB"}, "mark": {"type": "line", "interpolate": "step-after", "strokeWidth": 2.1, "opacity": 0.3}},
  {"data": {"name": "deepcox"}, "mark": {"type": "line", "strokeWidth": 1.3, "opacity": 0.8}},
  {"data": {"name": "gfA"}, "mark": {"type": "line", "strokeWidth": 2.1, "opacity": 0.8}}
 ]
},
{"width": 434, "height": 442,
 "title": {"text": "(b) Framingham - DRODeepCox", "dx": -26},
 "encoding": {
  "x": {"field": "t", "type": "quantitative", "scale": {"domain": [-1.605, 33.705], "nice": false, "zero": false}, "axis": {"title": "Years", "values": [0,5,10,15,20,25,30]}},
  "y": {"field": "v", "type": "quantitative", "scale": {"domain": [0.5338, 1.0213], "nice": false, "zero": false}, "axis": {"title": "Survival Probability", "values": [0.6,0.7,0.8,0.9,1.0], "format": ".1f"}},
  "color": {"field": "s", "type": "nominal", "scale": {"domain": ["Observed Male","Observed Female","DeepCox/Male","DeepCox/Female","DRODeepCox/Male","DRODeepCox/Female"], "range": ["blue","red","blue","red","steelblue","darksalmon"]},
   "legend": {"title": null, "encode": {"symbols": {"update": {"opacity": {"signal": "indexof(datum.value, 'Observed') >= 0 ? 0.3 : 0.8"}, "strokeWidth": {"signal": "indexof(datum.value, 'DeepCox') == 0 || indexof(datum.value, 'DNNSurv') == 0 ? 1.3 : 2.1"}}}}}},
  "strokeDash": {"field": "s", "type": "nominal", "scale": {"domain": ["Observed Male","Observed Female","DeepCox/Male","DeepCox/Female","DRODeepCox/Male","DRODeepCox/Female"], "range": [[1,0],[1,0],[5,2.2],[5,2.2],[1,0],[1,0]]},
   "legend": {"title": null, "encode": {"symbols": {"update": {"opacity": {"signal": "indexof(datum.value, 'Observed') >= 0 ? 0.3 : 0.8"}, "strokeWidth": {"signal": "indexof(datum.value, 'DeepCox') == 0 || indexof(datum.value, 'DNNSurv') == 0 ? 1.3 : 2.1"}}}}}}
 },
 "layer": [
  {"data": {"name": "obsAB"}, "mark": {"type": "line", "interpolate": "step-after", "strokeWidth": 2.1, "opacity": 0.3}},
  {"data": {"name": "deepcox"}, "mark": {"type": "line", "strokeWidth": 1.3, "opacity": 0.8}},
  {"data": {"name": "droB"}, "mark": {"type": "line", "strokeWidth": 2.1, "opacity": 0.8}}
 ]
}
]},
{"spacing": 35.65,
 "resolve": {"scale": {"color": "independent", "strokeDash": "independent", "x": "independent", "y": "independent"}, "legend": {"color": "independent", "strokeDash": "independent"}},
 "hconcat": [
{"width": 434, "height": 442,
 "title": {"text": "(c) Framingham - FASTDNNSurv", "dx": -31.05},
 "encoding": {
  "x": {"field": "t", "type": "quantitative", "scale": {"domain": [-1.605, 33.705], "nice": false, "zero": false}, "axis": {"title": "Years", "values": [0,5,10,15,20,25,30]}},
  "y": {"field": "v", "type": "quantitative", "scale": {"domain": [0.4716, 1.0255], "nice": false, "zero": false}, "axis": {"title": "Survival Probability", "values": [0.5,0.6,0.7,0.8,0.9,1.0], "format": ".1f"}},
  "color": {"field": "s", "type": "nominal", "scale": {"domain": ["Observed Female","Observed Male","DNNSurv/Female","DNNSurv/Male","FASTDNNSurv/Female","FASTDNNSurv/Male"], "range": ["red","blue","red","blue","brown","purple"]},
   "legend": {"title": null, "encode": {"symbols": {"update": {"opacity": {"signal": "indexof(datum.value, 'Observed') >= 0 ? 0.3 : 0.8"}, "strokeWidth": {"signal": "indexof(datum.value, 'DeepCox') == 0 || indexof(datum.value, 'DNNSurv') == 0 ? 1.3 : 2.1"}}}}}},
  "strokeDash": {"field": "s", "type": "nominal", "scale": {"domain": ["Observed Female","Observed Male","DNNSurv/Female","DNNSurv/Male","FASTDNNSurv/Female","FASTDNNSurv/Male"], "range": [[1,0],[1,0],[5,2.2],[5,2.2],[1,0],[1,0]]},
   "legend": {"title": null, "encode": {"symbols": {"update": {"opacity": {"signal": "indexof(datum.value, 'Observed') >= 0 ? 0.3 : 0.8"}, "strokeWidth": {"signal": "indexof(datum.value, 'DeepCox') == 0 || indexof(datum.value, 'DNNSurv') == 0 ? 1.3 : 2.1"}}}}}}
 },
 "layer": [
  {"data": {"name": "obsCD"}, "mark": {"type": "line", "interpolate": "step-after", "strokeWidth": 2.1, "opacity": 0.3}},
  {"data": {"name": "dnn"}, "mark": {"type": "line", "strokeWidth": 1.3, "opacity": 0.8}},
  {"data": {"name": "fast"}, "mark": {"type": "line", "strokeWidth": 2.1, "opacity": 0.8}}
 ]
},
{"width": 434, "height": 442,
 "title": {"text": "(d) Framingham - GFDNNSurv", "dx": -24.5},
 "encoding": {
  "x": {"field": "t", "type": "quantitative", "scale": {"domain": [-1.605, 33.705], "nice": false, "zero": false}, "axis": {"title": "Years", "values": [0,5,10,15,20,25,30]}},
  "y": {"field": "v", "type": "quantitative", "scale": {"domain": [0.4716, 1.0255], "nice": false, "zero": false}, "axis": {"title": "Survival Probability", "values": [0.5,0.6,0.7,0.8,0.9,1.0], "format": ".1f"}},
  "color": {"field": "s", "type": "nominal", "scale": {"domain": ["Observed Female","Observed Male","DNNSurv/Female","DNNSurv/Male","GFDNNSurv/Female","GFDNNSurv/Male"], "range": ["red","blue","red","blue","darksalmon","steelblue"]},
   "legend": {"title": null, "encode": {"symbols": {"update": {"opacity": {"signal": "indexof(datum.value, 'Observed') >= 0 ? 0.3 : 0.8"}, "strokeWidth": {"signal": "indexof(datum.value, 'DeepCox') == 0 || indexof(datum.value, 'DNNSurv') == 0 ? 1.3 : 2.1"}}}}}},
  "strokeDash": {"field": "s", "type": "nominal", "scale": {"domain": ["Observed Female","Observed Male","DNNSurv/Female","DNNSurv/Male","GFDNNSurv/Female","GFDNNSurv/Male"], "range": [[1,0],[1,0],[5,2.2],[5,2.2],[1,0],[1,0]]},
   "legend": {"title": null, "encode": {"symbols": {"update": {"opacity": {"signal": "indexof(datum.value, 'Observed') >= 0 ? 0.3 : 0.8"}, "strokeWidth": {"signal": "indexof(datum.value, 'DeepCox') == 0 || indexof(datum.value, 'DNNSurv') == 0 ? 1.3 : 2.1"}}}}}}
 },
 "layer": [
  {"data": {"name": "obsCD"}, "mark": {"type": "line", "interpolate": "step-after", "strokeWidth": 2.1, "opacity": 0.3}},
  {"data": {"name": "dnn"}, "mark": {"type": "line", "strokeWidth": 1.3, "opacity": 0.8}},
  {"data": {"name": "gfdnn"}, "mark": {"type": "line", "strokeWidth": 2.1, "opacity": 0.8}}
 ]
}
]}
],
"config": {
 "font": "DejaVu Sans",
 "view": {"stroke": "#000000", "strokeWidth": 1.1},
 "axis": {"domain": false, "grid": false, "tickSize": 4.8, "tickColor": "#000000", "tickWidth": 1.1, "labelFont": "DejaVu Sans", "labelFontSize": 13.5, "labelColor": "#000000", "labelPadding": 4.5, "titleFont": "DejaVu Sans", "titleFontSize": 13.5, "titleColor": "#000000", "titleFontWeight": "normal"},
 "axisX": {"titlePadding": 6},
 "axisY": {"titlePadding": 6},
 "legend": {"orient": "top-right", "offset": 5, "labelFont": "DejaVu Sans", "labelFontSize": 11.4, "labelColor": "#000000", "fillColor": "rgba(255,255,255,0.8)", "strokeColor": "#cccccc", "cornerRadius": 3, "padding": 4, "rowPadding": 3.6, "symbolType": "M-5,0H20.3", "symbolSize": 4, "labelOffset": 23, "symbolStrokeWidth": 2},
 "title": {"font": "Liberation Serif", "fontSize": 32, "fontWeight": "normal", "color": "#000000", "orient": "bottom", "anchor": "middle", "offset": 31}
}
}
